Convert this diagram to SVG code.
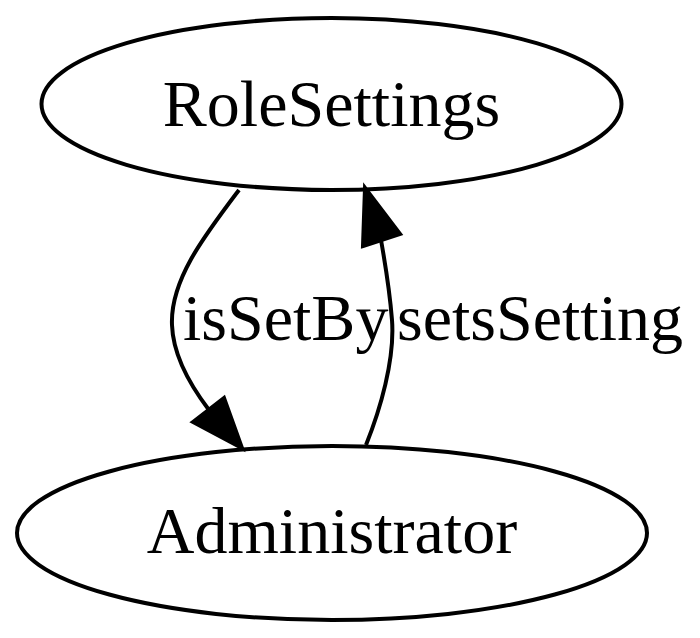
<svg xmlns="http://www.w3.org/2000/svg" width="700" height="638" viewBox="0 0 700 638">
<style>
.node ellipse{fill:none;stroke:#000;stroke-width:4}
text{font-family:"Liberation Serif","Times New Roman",serif;font-size:66px;fill:#000}
.edge path{fill:none;stroke:#000;stroke-width:4}
.edge polygon{fill:#000;stroke:#000;stroke-width:4;stroke-linejoin:miter}
</style>
<rect width="700" height="638" fill="#fff"/>
<g id="RoleSettings" class="node">
<ellipse cx="331.5" cy="104" rx="290" ry="86"/>
<text x="331.5" y="126" text-anchor="middle">RoleSettings</text>
</g>
<g id="Administrator" class="node">
<ellipse cx="332" cy="533" rx="315" ry="87"/>
<text x="332" y="553" text-anchor="middle">Administrator</text>
</g>
<g id="connectors">
<g class="edge" id="isSetBy">
<path d="M239,190 C205,235 170,280 172,325 C173,355 190,385 209,410"/>
<polygon points="193,422 224,398 242,448"/>
<text x="183" y="340">isSetBy</text>
</g>
<g class="edge" id="setsSetting">
<path d="M366,445 C380,410 395,360 392,320 C390,295 386,268 381,240"/>
<polygon points="363,246 400,234 365,188"/>
<text x="397" y="340">setsSetting</text>
</g>
</g>
</svg>
